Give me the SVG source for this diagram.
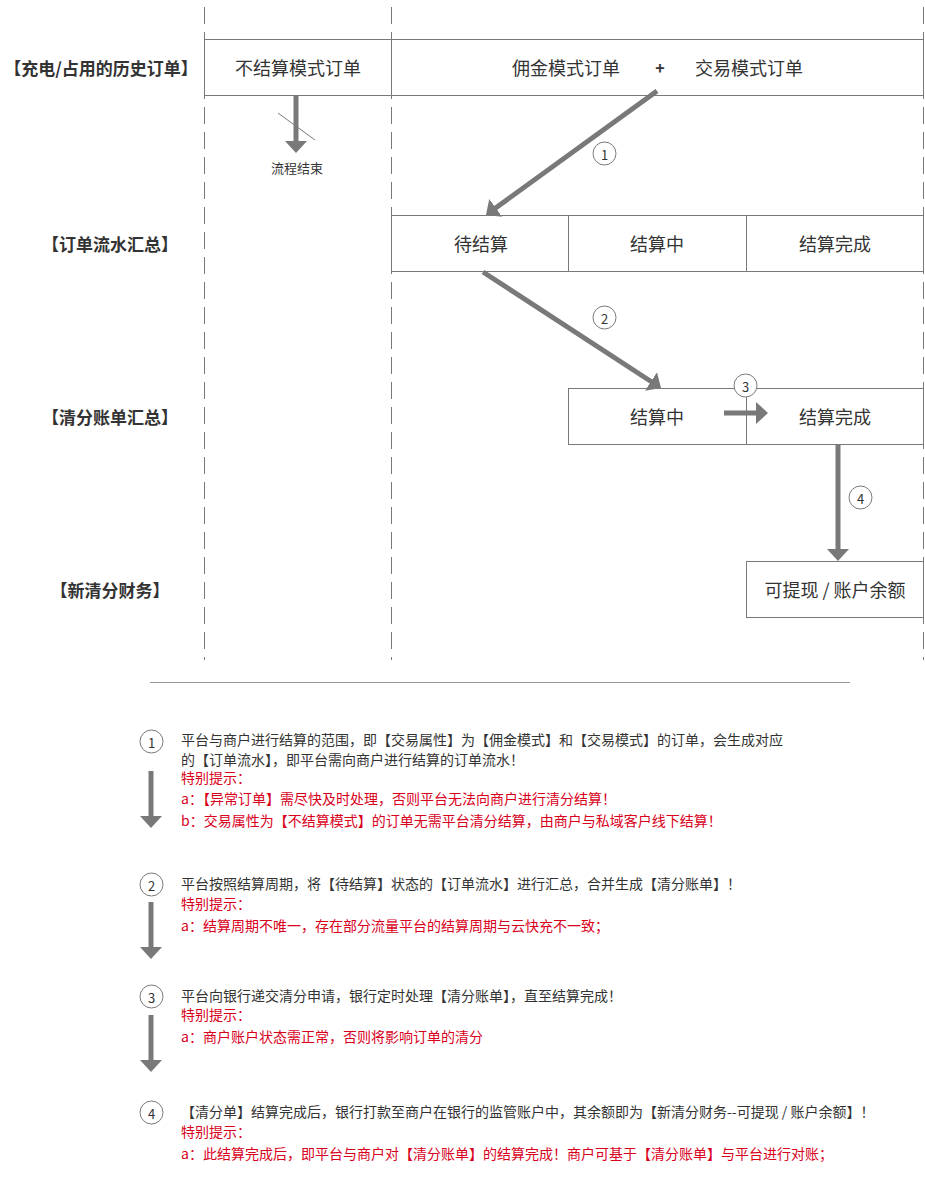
<svg xmlns="http://www.w3.org/2000/svg" width="925" height="1177" viewBox="0 0 925 1177">
<style>
text{font-family:"Microsoft YaHei","Noto Sans CJK SC","Noto Sans",sans-serif;fill:#333;dominant-baseline:central}
.lane{stroke:#797979;stroke-width:1;stroke-dasharray:17 8;fill:none}
.box{fill:#fff;stroke:#797979;stroke-width:1}
.bt{font-size:18px;text-anchor:middle}
.lbl{font-size:17px;font-weight:bold;text-anchor:middle}
.arr{stroke:#797979;stroke-width:5;fill:none;marker-end:url(#ah)}
.num{fill:#fff;stroke:#797979;stroke-width:1}
.nt{font-size:13px;text-anchor:middle}
.lt{font-size:14px}
.red{fill:#D9001B}
</style>
<defs>
<marker id="ah" markerUnits="userSpaceOnUse" markerWidth="14" markerHeight="24" viewBox="0 0 14 24" refX="1" refY="11" orient="auto">
<path d="M0,0 L12,11 L0,22 Z" fill="#797979"/>
</marker>
</defs>
<rect width="925" height="1177" fill="#fff"/>

<g id="lanes">
<line class="lane" x1="204.5" y1="7" x2="204.5" y2="660"/>
<line class="lane" x1="391.5" y1="7" x2="391.5" y2="660"/>
<line class="lane" x1="923.5" y1="7" x2="923.5" y2="660"/>
</g>

<g id="labels">
<text class="lbl" x="101" y="67">【充电/占用的历史订单】</text>
<text class="lbl" x="110" y="243">【订单流水汇总】</text>
<text class="lbl" x="110" y="416">【清分账单汇总】</text>
<text class="lbl" x="110" y="589">【新清分财务】</text>
</g>

<g id="node-nosettle">
<rect class="box" x="204.5" y="39.5" width="187" height="56"/>
<text class="bt" x="298" y="67">不结算模式订单</text>
</g>
<g id="node-orders">
<rect class="box" x="391.5" y="39.5" width="532" height="56"/>
<text class="bt" x="566" y="67">佣金模式订单</text>
<text class="bt" x="660" y="67" style="font-size:16px;font-weight:bold">+</text>
<text class="bt" x="749" y="67">交易模式订单</text>
</g>

<g id="node-flow-pending">
<rect class="box" x="391.5" y="215.5" width="177" height="56"/>
<text class="bt" x="481" y="243">待结算</text>
</g>
<g id="node-flow-inprogress">
<rect class="box" x="568.5" y="215.5" width="178" height="56"/>
<text class="bt" x="657" y="243">结算中</text>
</g>
<g id="node-flow-done">
<rect class="box" x="746.5" y="215.5" width="177" height="56"/>
<text class="bt" x="835" y="243">结算完成</text>
</g>

<g id="node-bill-inprogress">
<rect class="box" x="568.5" y="388.5" width="178" height="56"/>
<text class="bt" x="657" y="416">结算中</text>
</g>
<g id="node-bill-done">
<rect class="box" x="746.5" y="388.5" width="177" height="56"/>
<text class="bt" x="835" y="416">结算完成</text>
</g>

<g id="node-balance">
<rect class="box" x="746.5" y="561.5" width="177" height="56"/>
<text class="bt" x="835" y="589">可提现 / 账户余额</text>
</g>

<g id="connectors">
<line class="arr" x1="296" y1="96" x2="296" y2="142"/>
<line x1="278" y1="113" x2="315" y2="140" stroke="#797979" stroke-width="1"/>
<text x="297" y="167" style="font-size:13px;text-anchor:middle">流程结束</text>

<line class="arr" x1="657" y1="91" x2="494.9" y2="208.5"/>
<line class="arr" x1="483" y1="272" x2="651.8" y2="382"/>
<line class="arr" x1="724" y1="413" x2="757" y2="413"/>
<line class="arr" x1="838" y1="445" x2="838" y2="550"/>

<circle class="num" cx="604.5" cy="153.5" r="11.5"/><text class="nt" x="604.5" y="154">1</text>
<circle class="num" cx="604.5" cy="317.5" r="11.5"/><text class="nt" x="604.5" y="318">2</text>
<circle class="num" cx="745.5" cy="385.5" r="11.5"/><text class="nt" x="745.5" y="386">3</text>
<circle class="num" cx="860.5" cy="497.5" r="11.5"/><text class="nt" x="860.5" y="498">4</text>
</g>

<line x1="150" y1="682.5" x2="850" y2="682.5" stroke="#999" stroke-width="1"/>

<g id="legend-1">
<circle class="num" cx="151.5" cy="741.5" r="11.5"/><text class="nt" x="151.5" y="742">1</text>
<line class="arr" x1="151" y1="771" x2="151" y2="817"/>
<text class="lt" x="181" y="739">平台与商户进行结算的范围，即【交易属性】为【佣金模式】和【交易模式】的订单，会生成对应</text>
<text class="lt" x="181" y="758.5">的【订单流水】，即平台需向商户进行结算的订单流水！</text>
<text class="lt red" x="181" y="777">特别提示：</text>
<text class="lt red" x="181" y="798">a：【异常订单】需尽快及时处理，否则平台无法向商户进行清分结算！</text>
<text class="lt red" x="181" y="820">b：交易属性为【不结算模式】的订单无需平台清分结算，由商户与私域客户线下结算！</text>
</g>

<g id="legend-2">
<circle class="num" cx="151.5" cy="884.5" r="11.5"/><text class="nt" x="151.5" y="885">2</text>
<line class="arr" x1="151" y1="902" x2="151" y2="948"/>
<text class="lt" x="181" y="883">平台按照结算周期，将【待结算】状态的【订单流水】进行汇总，合并生成【清分账单】！</text>
<text class="lt red" x="181" y="903">特别提示：</text>
<text class="lt red" x="181" y="925">a：结算周期不唯一，存在部分流量平台的结算周期与云快充不一致；</text>
</g>

<g id="legend-3">
<circle class="num" cx="151.5" cy="996.5" r="11.5"/><text class="nt" x="151.5" y="997">3</text>
<line class="arr" x1="151" y1="1015" x2="151" y2="1061"/>
<text class="lt" x="181" y="995">平台向银行递交清分申请，银行定时处理【清分账单】，直至结算完成！</text>
<text class="lt red" x="181" y="1014">特别提示：</text>
<text class="lt red" x="181" y="1036">a：商户账户状态需正常，否则将影响订单的清分</text>
</g>

<g id="legend-4">
<circle class="num" cx="151.5" cy="1112.5" r="11.5"/><text class="nt" x="151.5" y="1113">4</text>
<text class="lt" x="181" y="1111">【清分单】结算完成后，银行打款至商户在银行的监管账户中，其余额即为【新清分财务--可提现 / 账户余额】！</text>
<text class="lt red" x="181" y="1131">特别提示：</text>
<text class="lt red" x="181" y="1153">a：此结算完成后，即平台与商户对【清分账单】的结算完成！商户可基于【清分账单】与平台进行对账；</text>
</g>
</svg>
